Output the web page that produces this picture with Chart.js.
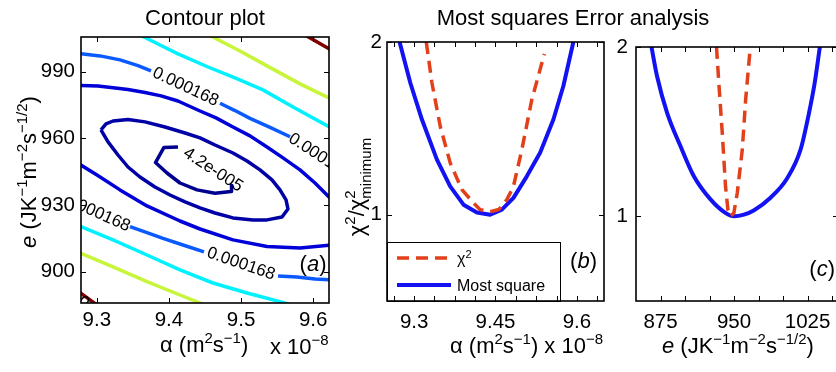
<!DOCTYPE html>
<html lang="en">
<head>
<meta charset="UTF-8">
<title>Contour plot / Most squares Error analysis</title>
<style>
  html, body { margin: 0; padding: 0; background: #fff; }
  body { width: 836px; height: 372px; position: relative; overflow: hidden; }
  canvas { position: absolute; left: 0; top: 0; display: block; }
</style>
<script src="https://cdn.jsdelivr.net/npm/chart.js@4"></script>
</head>
<body>
<canvas id="chartA" width="860" height="372"></canvas>
<canvas id="chartB" width="860" height="372"></canvas>
<canvas id="chartC" width="860" height="372"></canvas>
<script>
const FONT = "'Liberation Sans', Arial, Helvetica, sans-serif";

// ---------- panel (a): contour lines, points are [alpha (x1e-8), e] ----------
const aXRange = [9.278, 9.622];
const aYRange = [885.9, 1005.6];
const aTicksX = [9.3, 9.4, 9.5, 9.6];
const aTicksY = [900, 930, 960, 990];

const lvlInner = [[9.4125,956.1],[9.3931,955.9],[9.3813,949.1],[9.3973,944.4],[9.4153,939.9],[9.4389,936.8],[9.4639,935.3],[9.4861,936.1],[9.4868,939.5]];
const lvlEllipse = [[9.3057,963.8],[9.3127,966.5],[9.3224,967.8],[9.3432,968.5],[9.3668,967.4],[9.3945,965.1],[9.4223,962.4],[9.4431,960.2],[9.4639,957.0],[9.4888,953.4],[9.5083,949.8],[9.5263,945.8],[9.5429,941.3],[9.5540,936.8],[9.5624,932.3],[9.5651,928.2],[9.5568,924.6],[9.5360,923.3],[9.5166,923.3],[9.4888,924.2],[9.4639,926.4],[9.4431,928.7],[9.4223,931.4],[9.4015,934.5],[9.3806,938.1],[9.3598,942.6],[9.3432,947.1],[9.3293,952.5],[9.3155,958.4],[9.3057,963.8]];
const lvl3Upper = [[9.2752,983.8],[9.3016,983.6],[9.3196,982.9],[9.3432,982.0],[9.3668,980.6],[9.3890,979.1],[9.4125,976.8],[9.4431,972.3],[9.4653,969.2],[9.4888,965.1],[9.5124,961.1],[9.5360,956.1],[9.5582,951.2],[9.5818,945.8],[9.6026,939.9],[9.6248,932.7]];
const lvl3Lower = [[9.2752,948.5],[9.3002,943.5],[9.3321,936.8],[9.3695,929.6],[9.4153,922.8],[9.4431,919.2],[9.4888,914.3],[9.5360,911.3],[9.5818,910.7],[9.6248,912.0]];
const lvl168UpLeft = [[9.2752,998.2],[9.3044,997.1],[9.3321,995.3],[9.3571,992.7],[9.3751,990.4]];
const lvl168UpRight = [[9.4708,975.8],[9.4916,972.5],[9.5124,969.0],[9.5402,964.9],[9.5679,960.7]];
const lvl168LowLeft = [[9.3460,920.3],[9.3695,917.6],[9.3917,915.0],[9.4195,912.0],[9.4486,908.9]];
const lvl168LowRight = [[9.5513,898.1],[9.5776,897.6],[9.6026,896.7],[9.6248,896.3]];
const lvlCyanUpper = [[9.3598,1006.5],[9.3876,1002.0],[9.4125,998.0],[9.4542,992.1],[9.4916,987.2],[9.5304,981.8],[9.5721,974.1],[9.6248,964.7]];
const lvlCyanLower = [[9.2752,920.6],[9.3224,914.3],[9.3695,907.5],[9.4153,900.8],[9.4611,894.9],[9.5083,890.4],[9.5540,886.5],[9.5707,885.0]];
const lvlYellowUpper = [[9.4555,1006.5],[9.4985,999.3],[9.5360,992.6],[9.5818,984.5],[9.6248,977.7]];
const lvlYellowLower = [[9.2752,908.6],[9.3224,902.2],[9.3695,895.5],[9.4153,889.5],[9.4500,885.0]];
const lvlRedUpper = [[9.5887,1006.5],[9.6248,999.8]];
const lvlRedLower = [[9.2752,890.9],[9.3002,885.0]];

const clabelText = ['4.2e-005', '0.000168', '0.000168', '0.000168', '0.000168', '0.000336'];
const clabelX = [9.4611, 9.4230, 9.6092, 9.3002, 9.4999, 9.3149];
const clabelY = [945.8, 983.1, 951.9, 926.4, 903.5, 877.6];
const clabelAngle = [33, 25, 33, 24, 19, 38];

// ---------- panel (b): ratio vs alpha ----------
const bXRange = [9.25, 9.65];
const bTicksX = [9.3, 9.45, 9.6];
const bTickLabels = ['9.3', '9.45', '9.6'];
const ratioRange = [0.5, 2];
const ratioTicks = [1, 2];
const alphaMost = [9.2732, 9.2929, 9.3144, 9.3420, 9.3665, 9.3910, 9.4157, 9.4402, 9.4617, 9.4831, 9.5077, 9.5322, 9.5567, 9.5751, 9.5935];
const ratioMostAlpha = [2.0, 1.764, 1.551, 1.319, 1.164, 1.058, 1.013, 1.0, 1.029, 1.097, 1.222, 1.358, 1.551, 1.745, 2.0];
const alphaChi = [9.3224, 9.3328, 9.3481, 9.3665, 9.3881, 9.4094, 9.4218, 9.4402, 9.4560, 9.4709, 9.4831, 9.4986, 9.5170, 9.5400];
const ratioChiAlpha = [2.0, 1.764, 1.512, 1.30, 1.145, 1.068, 1.029, 1.017, 1.03, 1.087, 1.164, 1.377, 1.667, 1.93];

// ---------- panel (c): ratio vs e ----------
const cXRange = [850, 1056];
const cTicksX = [875, 950, 1025];
const eMost = [865.8, 871.6, 881.8, 895.4, 909.0, 926.0, 940, 950, 960, 970, 987.2, 1004.2, 1017.8, 1026.4, 1032, 1037.5];
const ratioMostE = [2.0, 1.824, 1.61, 1.414, 1.237, 1.10, 1.025, 1.0, 1.01, 1.035, 1.11, 1.225, 1.394, 1.61, 1.78, 2.0];
const eChi = [932.1, 934.5, 938.0, 941.3, 943.7, 946.5, 949.8, 953.3, 958.4, 961.8, 966.2];
const ratioChiE = [2.0, 1.784, 1.49, 1.176, 1.041, 1.0, 1.02, 1.139, 1.394, 1.688, 1.976];

const levelColors = ['#000090', '#0000A6', '#0000D8', '#0A5AFF', '#00F2FF', '#C6F53A', '#800000'];
const RED = '#E2401B';
const BLUE = '#1212F2';

// ---------- helpers ----------
function richText(ctx, parts, x, y, opt) {
  const size = opt.size || 22;
  const small = opt.small || Math.round(size * 0.68);
  const items = [];
  let cur = 0, lastStart = 0, end = 0;
  parts.forEach(p => {
    const fs = p.s ? small : size;
    const font = (p.it ? 'italic ' : '') + fs + 'px ' + FONT;
    ctx.font = font;
    const w = ctx.measureText(p.t).width;
    const start = p.back ? lastStart : cur;
    const dy = p.s === 1 ? -size * 0.4 : p.s === 2 ? size * 0.32 : 0;
    items.push({ t: p.t, font, x: start, dy });
    lastStart = start;
    end = Math.max(end, start + w);
    cur = end;
  });
  const off = opt.align === 'center' ? -end / 2 : opt.align === 'right' ? -end : 0;
  ctx.save();
  ctx.translate(x, y);
  if (opt.rot) ctx.rotate(opt.rot);
  ctx.fillStyle = opt.color || '#000';
  ctx.textBaseline = 'alphabetic';
  ctx.textAlign = 'left';
  items.forEach(it => { ctx.font = it.font; ctx.fillText(it.t, off + it.x, it.dy); });
  ctx.restore();
}

function pairs(pts) { return pts.map(p => ({ x: p[0], y: p[1] })); }
function zip(xs, ys) { return xs.map((x, i) => ({ x, y: ys[i] })); }

function lineDs(data, color, width, dash, label, smooth) {
  return {
    label: label || '', data, borderColor: color, backgroundColor: color,
    borderWidth: width, borderDash: dash || [], showLine: true, pointRadius: 0,
    fill: false, clip: 0, borderJoinStyle: 'round', borderCapStyle: 'butt',
    tension: smooth ? 0.4 : 0, cubicInterpolationMode: smooth ? 'monotone' : 'default'
  };
}

function xAxis(range, ticks, fmt, height, pad) {
  return {
    type: 'linear', min: range[0], max: range[1],
    afterBuildTicks: s => { s.ticks = ticks.map(v => ({ value: v })); },
    afterFit: s => { s.height = height; },
    ticks: { callback: fmt, font: { family: FONT, size: 20.5 }, color: '#000', padding: pad, maxRotation: 0, autoSkip: false },
    grid: { display: false, drawTicks: false }, border: { display: false }
  };
}
function yAxis(range, ticks, fmt, width, pad) {
  return {
    type: 'linear', min: range[0], max: range[1],
    afterBuildTicks: s => { s.ticks = ticks.map(v => ({ value: v })); },
    afterFit: s => { s.width = width; },
    ticks: { callback: fmt, font: { family: FONT, size: 20.5 }, color: '#000', padding: pad, autoSkip: false },
    grid: { display: false, drawTicks: false }, border: { display: false }
  };
}

const decor = {
  id: 'decor',
  afterDatasetsDraw(chart, args, o) {
    const { ctx, chartArea: a, scales: { x, y } } = chart;
    if (o.clabels) {
      ctx.save();
      ctx.beginPath();
      ctx.rect(a.left, a.top, a.right - a.left, a.bottom - a.top);
      ctx.clip();
      ctx.fillStyle = '#000';
      ctx.font = '17px ' + FONT;
      ctx.textAlign = 'center';
      ctx.textBaseline = 'middle';
      o.clabels.text.forEach((t, i) => {
        ctx.save();
        ctx.translate(x.getPixelForValue(o.clabels.x[i]), y.getPixelForValue(o.clabels.y[i]));
        ctx.rotate(o.clabels.angle[i] * Math.PI / 180);
        ctx.fillText(t, 0, 0);
        ctx.restore();
      });
      ctx.restore();
    }
    if (o.legend) {
      const L = o.legend;
      ctx.save();
      ctx.fillStyle = '#fff';
      ctx.fillRect(L.left, L.top, L.right - L.left, a.bottom - L.top);
      ctx.strokeStyle = '#000';
      ctx.lineWidth = 1;
      ctx.strokeRect(L.left + 0.5, L.top + 0.5, L.right - L.left, a.bottom - L.top);
      chart.data.datasets.forEach((ds, i) => {
        const yy = L.rows[i];
        ctx.strokeStyle = ds.borderColor;
        ctx.lineWidth = ds.borderWidth;
        ctx.setLineDash(ds.borderDash);
        ctx.beginPath();
        ctx.moveTo(L.left + 10, yy);
        ctx.lineTo(L.left + 64, yy);
        ctx.stroke();
        ctx.setLineDash([]);
        richText(ctx, L.labels[i], L.left + 70, yy + 6, { size: 16, small: 11 });
      });
      ctx.restore();
    }
  },
  afterDraw(chart, args, o) {
    const { ctx, chartArea: a, scales: { x, y } } = chart;
    const TL = 5;
    ctx.save();
    ctx.strokeStyle = '#000';
    ctx.lineWidth = 1;
    ctx.beginPath();
    (o.tx || []).forEach(v => {
      const p = Math.round(x.getPixelForValue(v)) + 0.5;
      if (p < a.left || p > a.right) return;
      ctx.moveTo(p, a.bottom); ctx.lineTo(p, a.bottom - TL);
      ctx.moveTo(p, a.top); ctx.lineTo(p, a.top + TL);
    });
    (o.ty || []).forEach(v => {
      const p = Math.round(y.getPixelForValue(v)) + 0.5;
      if (p < a.top || p > a.bottom) return;
      ctx.moveTo(a.left, p); ctx.lineTo(a.left + TL, p);
      ctx.moveTo(a.right, p); ctx.lineTo(a.right - TL, p);
    });
    ctx.stroke();
    ctx.lineWidth = 1.6;
    ctx.strokeRect(a.left, a.top, a.right - a.left, a.bottom - a.top);
    ctx.restore();
    (o.texts || []).forEach(t => richText(ctx, t.parts, t.x, t.y, t));
  }
};

function makeChart(id, datasets, area, yw, scales, decorOpts) {
  const W = 860;
  return new Chart(document.getElementById(id), {
    type: 'scatter',
    data: { datasets },
    options: {
      responsive: false, animation: false, events: [],
      layout: { padding: { left: area.left - yw, top: area.top, right: W - area.right, bottom: 0 } },
      scales,
      plugins: { legend: { display: false }, tooltip: { enabled: false }, decor: decorOpts }
    },
    plugins: [decor]
  });
}

// ---------- panel (a) ----------
const aLines = [
  [lvlInner, 0], [lvlEllipse, 1], [lvl3Upper, 2], [lvl3Lower, 2],
  [lvl168UpLeft, 3], [lvl168UpRight, 3], [lvl168LowLeft, 3], [lvl168LowRight, 3],
  [lvlCyanUpper, 4], [lvlCyanLower, 4], [lvlYellowUpper, 5], [lvlYellowLower, 5],
  [lvlRedUpper, 6], [lvlRedLower, 6]
];
makeChart('chartA',
  aLines.map(l => lineDs(pairs(l[0]), levelColors[l[1]], 3.5)),
  { left: 81, top: 37, right: 329, bottom: 303 }, 81,
  {
    x: xAxis(aXRange, aTicksX, v => v.toFixed(1), 372 - 303, 5),
    y: yAxis(aYRange, aTicksY, v => String(v), 81, 6)
  },
  {
    tx: aTicksX, ty: aTicksY,
    clabels: { text: clabelText, x: clabelX, y: clabelY, angle: clabelAngle },
    texts: [
      { parts: [{ t: 'Contour plot' }], x: 205, y: 25, align: 'center' },
      { parts: [{ t: 'α (m' }, { t: '2', s: 1 }, { t: 's' }, { t: '−1', s: 1 }, { t: ')' }], x: 160, y: 352 },
      { parts: [{ t: 'x 10' }, { t: '−8', s: 1 }], x: 270, y: 354 },
      { parts: [{ t: 'e', it: 1 }, { t: ' (JK' }, { t: '−1', s: 1 }, { t: 'm' }, { t: '−2', s: 1 }, { t: 's' }, { t: '−1/2', s: 1 }, { t: ')' }], x: 36, y: 172, align: 'center', rot: -Math.PI / 2 },
      { parts: [{ t: '(' }, { t: 'a', it: 1 }, { t: ')' }], x: 326.5, y: 270.5, align: 'right' }
    ]
  }
);

// ---------- panel (b) ----------
const bMinorX = [9.2625, 9.3, 9.3375, 9.375, 9.4125, 9.45, 9.4875, 9.525, 9.5625, 9.6, 9.6375];
makeChart('chartB',
  [lineDs(zip(alphaChi, ratioChiAlpha), RED, 3.5, [12, 7], 'chi2'),
   lineDs(zip(alphaMost, ratioMostAlpha), BLUE, 4, [], 'Most square')],
  { left: 387, top: 42, right: 604, bottom: 301 }, 60,
  {
    x: xAxis(bXRange, bTicksX, (v, i) => bTickLabels[i], 372 - 301, 9),
    y: yAxis(ratioRange, ratioTicks, v => String(v), 60, 5)
  },
  {
    tx: bMinorX, ty: ratioTicks,
    legend: {
      left: 387, right: 560, top: 242,
      rows: [258, 285],
      labels: [[{ t: 'χ' }, { t: '2', s: 1 }], [{ t: 'Most square' }]]
    },
    texts: [
      { parts: [{ t: 'Most squares Error analysis' }], x: 573, y: 25, align: 'center' },
      { parts: [{ t: 'α (m' }, { t: '2', s: 1 }, { t: 's' }, { t: '−1', s: 1 }, { t: ') x 10' }, { t: '−8', s: 1 }], x: 450, y: 353 },
      { parts: [{ t: 'χ' }, { t: '2', s: 1 }, { t: '/χ' }, { t: '2', s: 1 }, { t: 'minimum', s: 2, back: 1 }], x: 363.5, y: 187, align: 'center', rot: -Math.PI / 2 },
      { parts: [{ t: '(' }, { t: 'b', it: 1 }, { t: ')' }], x: 597, y: 267.5, align: 'right' }
    ]
  }
);

// ---------- panel (c) ----------
const cMinorX = [875, 900, 925, 950, 975, 1000, 1025, 1050];
makeChart('chartC',
  [lineDs(zip(eChi, ratioChiE), RED, 3.5, [12, 7], 'chi2'),
   lineDs(zip(eMost, ratioMostE), BLUE, 4, [], 'Most square', true)],
  { left: 636, top: 47, right: 838, bottom: 301 }, 40,
  {
    x: xAxis(cXRange, cTicksX, v => String(v), 372 - 301, 9),
    y: yAxis(ratioRange, ratioTicks, v => String(v), 40, 8)
  },
  {
    tx: cMinorX, ty: ratioTicks,
    texts: [
      { parts: [{ t: 'e', it: 1 }, { t: ' (JK' }, { t: '−1', s: 1 }, { t: 'm' }, { t: '−2', s: 1 }, { t: 's' }, { t: '−1/2', s: 1 }, { t: ')' }], x: 662, y: 353 },
      { parts: [{ t: '(' }, { t: 'c', it: 1 }, { t: ')' }], x: 835, y: 276, align: 'right' }
    ]
  }
);
</script>
</body>
</html>
